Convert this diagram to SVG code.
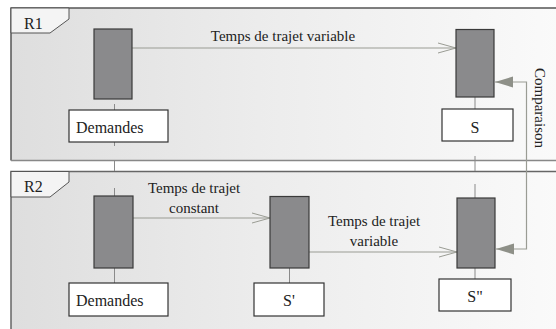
<svg xmlns="http://www.w3.org/2000/svg" width="556" height="329" viewBox="0 0 556 329">
<defs>
<linearGradient id="bg" x1="0" y1="0" x2="1" y2="0">
<stop offset="0" stop-color="#dedede"/>
<stop offset="0.45" stop-color="#ececec"/>
<stop offset="1" stop-color="#fafafa"/>
</linearGradient>
<marker id="open" markerWidth="20" markerHeight="12" refX="19" refY="6" orient="auto" markerUnits="userSpaceOnUse">
<path d="M1,1 L19,6 L1,11" fill="none" stroke="#9a9c94" stroke-width="1"/>
</marker>
</defs>
<style>
.panel{fill:url(#bg);stroke:none}
.tab{fill:#f4f4f4;stroke:#555;stroke-width:1}
.bar{fill:#8a8a8c;stroke:#3a3a3a;stroke-width:1.2}
.box{fill:#ffffff;stroke:#333;stroke-width:1.2}
text{font-family:'Times New Roman','Liberation Serif','DejaVu Serif',serif;fill:#222}
.conn{fill:none;stroke:#9a9c94;stroke-width:1.2}
.vl{fill:none;stroke:#8a8a8a;stroke-width:1}
</style>
<rect x="0" y="0" width="556" height="329" fill="#ffffff"/>
<g id="R1">
<rect class="panel" x="11" y="8" width="550" height="152.5"/>
<path d="M11,160.5 L11,8 L556,8" fill="none" stroke="#555" stroke-width="1.5"/>
<line x1="11" y1="160.5" x2="556" y2="160.5" stroke="#888" stroke-width="1.5"/>
<path class="tab" d="M11,8 L69,8 L69,19 L50,33 L11,33 Z"/>
<text x="24" y="29" font-size="16">R1</text>
</g>
<g id="R2">
<rect class="panel" x="11" y="171.5" width="550" height="160"/>
<path d="M11,331 L11,171.5 L556,171.5" fill="none" stroke="#666" stroke-width="1.5"/>
<path class="tab" d="M11,171.5 L69,171.5 L69,182 L50,197 L11,197 Z"/>
<text x="24" y="192" font-size="16">R2</text>
</g>
<g id="connectors">
<path class="vl" d="M114.5,104 V110 M114.5,142 V146 M114.5,161 V171 M114.5,188 V196 M114.5,268 V283"/>
<path class="vl" d="M475,97 V109 M475,156 V171 M475,184 V198 M475,268 V279"/>
<path class="vl" d="M289.5,268 V283"/>
<line class="conn" x1="132" y1="48" x2="456" y2="48" marker-end="url(#open)"/>
<line class="conn" x1="133" y1="218" x2="270" y2="218" marker-end="url(#open)"/>
<line class="conn" x1="309" y1="252" x2="457" y2="252" marker-end="url(#open)"/>
<path class="conn" d="M496,249 H526.5 V82 H495" stroke-width="1.5"/>
<path d="M495,82 L513,76.5 L513,87.5 Z" fill="#8e9088"/>
<path d="M496,249 L514,243.5 L514,254.5 Z" fill="#8e9088"/>
<g font-size="15" text-anchor="middle">
<text x="283" y="41">Temps de trajet variable</text>
<text x="194" y="193">Temps de trajet</text>
<text x="194" y="213">constant</text>
<text x="374" y="226">Temps de trajet</text>
<text x="374" y="246">variable</text>
<text x="0" y="0" transform="translate(535,108) rotate(90)">Comparaison</text>
</g>
</g>
<g id="n1"><rect class="bar" x="94" y="29" width="38" height="70"/></g>
<g id="demandes1"><rect class="box" x="69" y="110" width="99" height="32"/><text x="76" y="133" font-size="16">Demandes</text></g>
<g id="n2"><rect class="bar" x="456" y="29.5" width="38" height="67.5"/></g>
<g id="s1"><rect class="box" x="442" y="109" width="71" height="32"/><text x="475" y="133" font-size="16" text-anchor="middle">S</text></g>
<g id="n3"><rect class="bar" x="94" y="196" width="39" height="72"/></g>
<g id="demandes2"><rect class="box" x="69" y="283" width="99" height="33"/><text x="76" y="306" font-size="16">Demandes</text></g>
<g id="n4"><rect class="bar" x="270" y="196.5" width="39" height="71.5"/></g>
<g id="s2"><rect class="box" x="254" y="283" width="70" height="33"/><text x="289" y="306" font-size="16" text-anchor="middle">S'</text></g>
<g id="n5"><rect class="bar" x="457" y="198" width="38" height="70"/></g>
<g id="s3"><rect class="box" x="439" y="279" width="72" height="32"/><text x="475" y="302" font-size="16" text-anchor="middle">S"</text></g>
</svg>
